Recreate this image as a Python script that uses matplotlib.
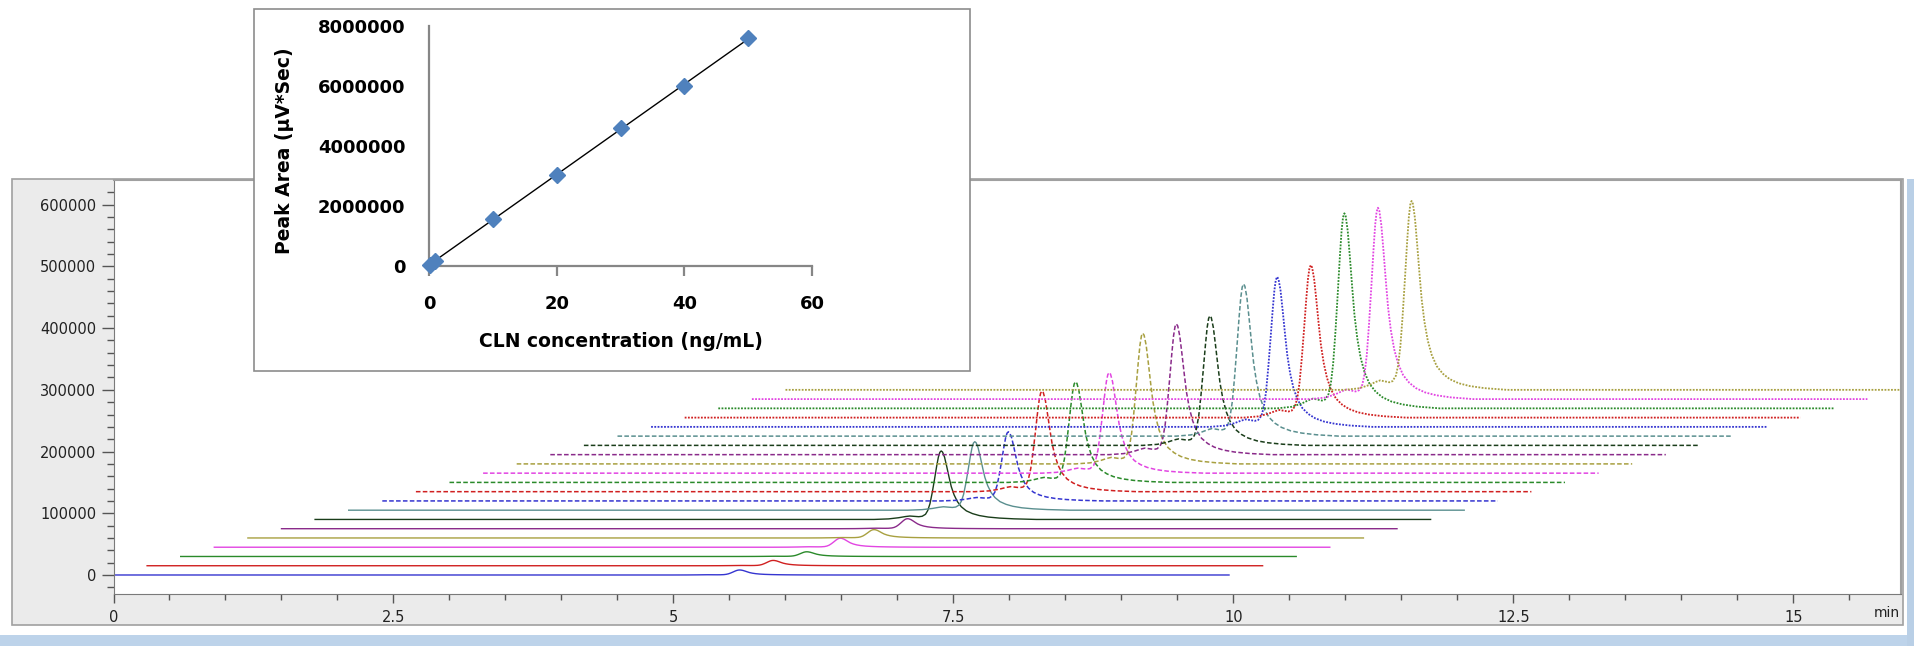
import numpy as np
import matplotlib.pyplot as plt
from matplotlib.patches import Rectangle

# calibration curve (inset)
conc = [0.1, 1, 10, 20, 30, 40, 50]
area = [40000, 180000, 1570000, 3040000, 4590000, 5990000, 7600000]

# chromatograms: peak height of each stacked run (baseline = 0)
peak_heights = [8100, 8600, 7600, 14600, 13500, 16200,
                111000, 111000, 112000, 163000, 163000, 163000,
                211700, 211700, 210000, 246500, 243000, 247000,
                316000, 310000, 306000]
ret_time = 5.59      # min
run_len = 9.96       # min
shift_x = 0.3        # min per run
shift_y = 15000      # uV per run

# peak profile (time from apex, fraction of height)
peak_dt = [-0.60, -0.47, -0.38, -0.32, -0.28, -0.24, -0.20, -0.17, -0.14, -0.12,
           -0.10, -0.08, -0.06, -0.04, -0.025, -0.012, 0.0, 0.012, 0.03, 0.05,
           0.07, 0.09, 0.115, 0.145, 0.18, 0.225, 0.28, 0.34, 0.42, 0.52, 0.65, 0.85]
peak_rel = [0.0, 0.008, 0.025, 0.042, 0.05, 0.045, 0.04, 0.046, 0.075, 0.13,
            0.23, 0.39, 0.58, 0.78, 0.91, 0.98, 1.0, 0.985, 0.91, 0.77,
            0.62, 0.48, 0.36, 0.26, 0.185, 0.125, 0.085, 0.057, 0.035, 0.02, 0.009, 0.0]

trace_colors = ['#3535d0', '#d02020', '#2a8a2a', '#e245e2',
                '#a8a040', '#8a2a8a', '#1a3d1a', '#5a8f8f']
trace_styles = ['-', (0, (3, 1.5)), (0, (1, 0.8))]
trace_widths = [1.0, 1.1, 1.3]

x_ticks = [0, 2.5, 5, 7.5, 10, 12.5, 15]
x_labels = ['0', '2.5', '5', '7.5', '10', '12.5', '15']
y_ticks = [0, 100000, 200000, 300000, 400000, 500000, 600000]

W, H = 1914, 646
fig = plt.figure(figsize=(W / 100, H / 100), dpi=100)


def px_rect(x0, y0, x1, y1):
    # pixel box measured from top-left -> figure fraction [l, b, w, h]
    return [x0 / W, 1 - y1 / H, (x1 - x0) / W, (y1 - y0) / H]


# window chrome / panels
fig.patches.append(Rectangle((12 / W, 1 - 625 / H), (1903 - 12) / W, (625 - 179) / H,
                             transform=fig.transFigure, fc='#ebebeb', ec='#a0a0a0',
                             lw=1.2, zorder=-2))
fig.patches.append(Rectangle((0, 0), 1, 11 / H, transform=fig.transFigure,
                             fc='#bdd3ea', ec='none', zorder=-2))
fig.patches.append(Rectangle((1907 / W, 0), 7 / W, (646 - 179) / H, transform=fig.transFigure,
                             fc='#b9cfe6', ec='none', zorder=-2))

# main chromatogram axes
ax = fig.add_axes(px_rect(113.5, 180, 1901, 594))
ax.set_facecolor('white')

dt = np.array(peak_dt)
rel = np.array(peak_rel)
for k, h in enumerate(peak_heights):
    t = np.concatenate([[0], ret_time + dt, [run_len]]) + k * shift_x
    y = np.concatenate([[0], h * rel, [0]]) + k * shift_y
    ax.plot(t, y, color=trace_colors[k % 8], ls=trace_styles[k // 8],
            lw=trace_widths[k // 8])

ax.set_xlim(0, 15.96)
ax.set_ylim(-30800, 640000)
ax.set_xticks(x_ticks)
ax.set_xticklabels(x_labels)
ax.set_xticks(np.arange(0, 16, 0.5), minor=True)
ax.set_yticks(y_ticks)
ax.set_yticklabels([str(v) for v in y_ticks])
ax.set_yticks(np.arange(-20000, 640000, 20000), minor=True)
ax.tick_params(axis='y', which='major', length=8.4, width=1, color='#555555',
               labelsize=10.5, labelcolor='#222222', pad=4)
ax.tick_params(axis='y', which='minor', length=4.8, width=1, color='#555555')
ax.tick_params(axis='x', which='major', length=6.5, width=1, color='#555555',
               labelsize=10.5, labelcolor='#222222', pad=5)
ax.tick_params(axis='x', which='minor', length=4.3, width=1, color='#555555')
for s in ['left', 'bottom']:
    ax.spines[s].set_color('#7a7a7a')
for s in ['top', 'right']:
    ax.spines[s].set_color('#a0a0a0')
    ax.spines[s].set_linewidth(1.5)
ax.text(0.992, -0.046, 'min', transform=ax.transAxes, ha='center', va='center',
        fontsize=10, color='#222222')

# inset calibration plot
fig.patches.append(Rectangle((254 / W, 1 - 371 / H), (970 - 254) / W, (371 - 9) / H,
                             transform=fig.transFigure, fc='white', ec='#8c8c8c',
                             lw=1.2, zorder=5))
ins = fig.add_axes(px_rect(429, 26, 812, 266), zorder=6)
ins.set_facecolor('none')
slope, icpt = np.polyfit(conc, area, 1)
ins.plot([0, 50], [icpt, icpt + slope * 50], color='black', lw=1.0, zorder=2)
ins.plot(conc, area, ls='none', marker='D', ms=8.5, mfc='#4f81bd', mec='#4f81bd',
         clip_on=False, zorder=3)
ins.set_xlim(0, 60)
ins.set_ylim(0, 8000000)
ins.set_xticks([0, 20, 40, 60])
ins.set_yticks([0, 2000000, 4000000, 6000000, 8000000])
ins.set_yticklabels(['0', '2000000', '4000000', '6000000', '8000000'])
ins.spines['top'].set_visible(False)
ins.spines['right'].set_visible(False)
for s in ['left', 'bottom']:
    ins.spines[s].set_color('#868686')
    ins.spines[s].set_linewidth(1.6)
ins.tick_params(axis='x', length=7.2, width=1.6, color='#868686', pad=14,
                labelsize=13)
ins.tick_params(axis='y', length=0, pad=17, labelsize=13)
for lab in ins.get_xticklabels() + ins.get_yticklabels():
    lab.set_fontweight('bold')
ins.set_xlabel('CLN concentration (ng/mL)', fontsize=13.5, fontweight='bold')
ins.set_ylabel('Peak Area (\u00b5V*Sec)', fontsize=13.5, fontweight='bold', va='center')
ins.xaxis.set_label_coords(0.5, -0.275)
ins.yaxis.set_label_coords(-0.376, 0.48)

fig.savefig('out.png', dpi=100)
